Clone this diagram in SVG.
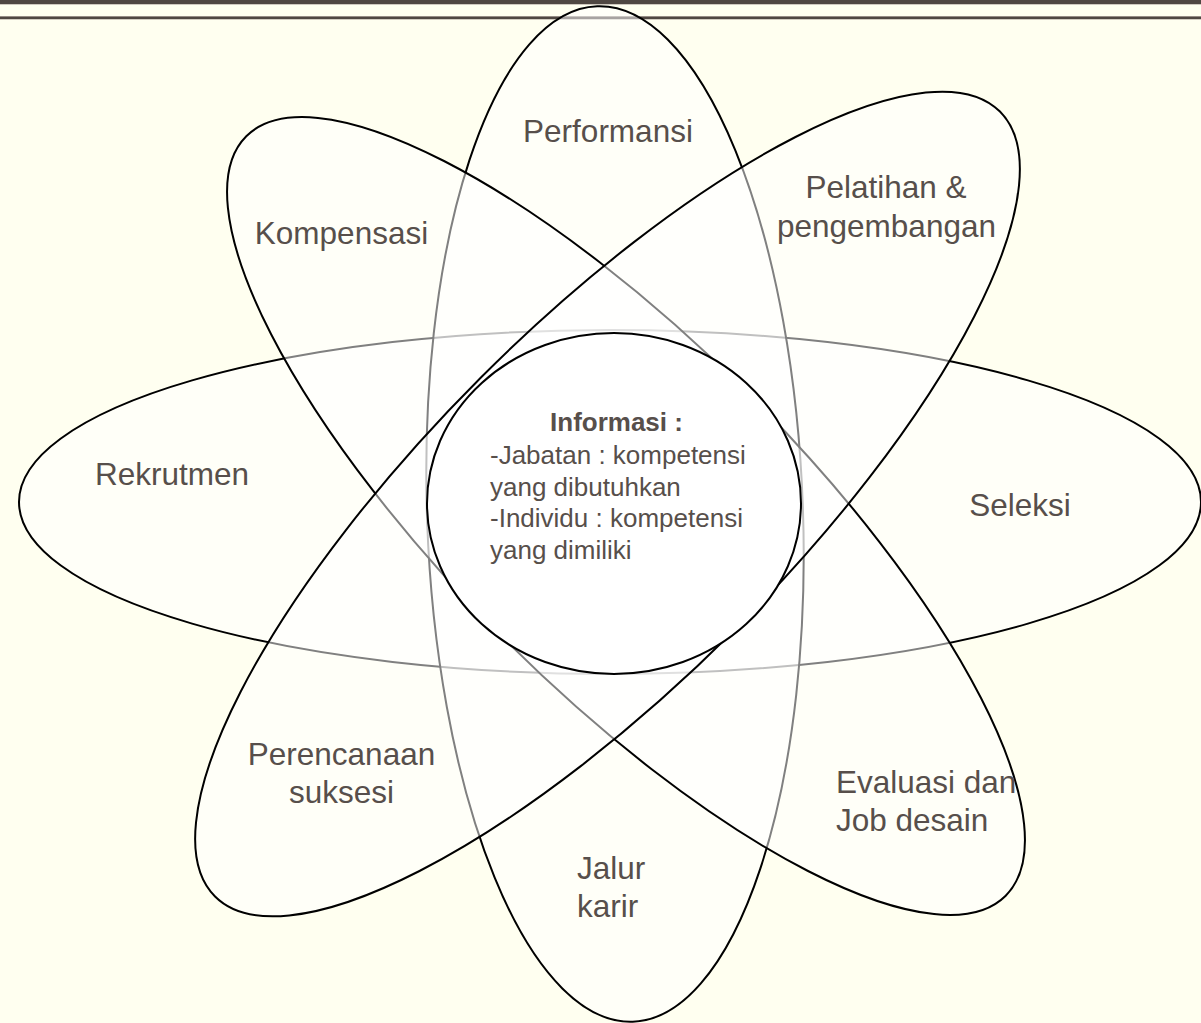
<svg xmlns="http://www.w3.org/2000/svg" width="1201" height="1023" viewBox="0 0 1201 1023">
<style>
.petal{fill:#ffffff;fill-opacity:0.5;stroke:#000000;stroke-width:2}
.core{fill:#ffffff;stroke:#000000;stroke-width:2}
.lbl{font-family:"Liberation Sans",Arial,sans-serif;font-size:31.5px;fill:#574f4b}
.info{font-family:"Liberation Sans",Arial,sans-serif;font-size:26px;fill:#574f4b}
</style>
<rect x="0" y="0" width="1201" height="1023" fill="#fffff0"/>
<g id="header">
<rect x="0" y="0" width="1201" height="4" fill="#4f4742"/>
<rect x="0" y="4" width="1201" height="1" fill="#cfc9bf"/>
<rect x="0" y="16" width="1201" height="1" fill="#958c85"/>
<rect x="0" y="17" width="1201" height="2.2" fill="#4f4742"/>
<rect x="0" y="19.2" width="1201" height="0.8" fill="#cfc9bf"/>
</g>
<g id="connectors"></g>
<g id="node-horizontal">
<ellipse class="petal" cx="610" cy="502" rx="591" ry="172"/>
<text class="lbl" x="172" y="485" text-anchor="middle">Rekrutmen</text>
<text class="lbl" x="1020" y="516" text-anchor="middle">Seleksi</text>
</g>
<g id="node-vertical">
<ellipse class="petal" cx="615" cy="514" rx="188" ry="508" transform="rotate(-2 615 514)"/>
<text class="lbl" x="608" y="142" text-anchor="middle">Performansi</text>
<text class="lbl" x="577" y="879">Jalur</text>
<text class="lbl" x="577" y="917">karir</text>
</g>
<g id="node-diagonal-1">
<ellipse class="petal" cx="626" cy="516" rx="537" ry="173" transform="rotate(45 626 516)"/>
<text class="lbl" x="341.5" y="244" text-anchor="middle">Kompensasi</text>
<text class="lbl" x="836" y="793">Evaluasi dan</text>
<text class="lbl" x="836" y="831">Job desain</text>
</g>
<g id="node-diagonal-2">
<ellipse class="petal" cx="607.5" cy="504" rx="555" ry="179" transform="rotate(-45 607.5 504)"/>
<text class="lbl" x="886" y="198" text-anchor="middle">Pelatihan &amp;</text>
<text class="lbl" x="886.5" y="237" text-anchor="middle">pengembangan</text>
<text class="lbl" x="341.5" y="765" text-anchor="middle">Perencanaan</text>
<text class="lbl" x="341.5" y="803" text-anchor="middle">suksesi</text>
</g>
<g id="node-informasi">
<ellipse class="core" cx="614" cy="503.5" rx="187" ry="170.5"/>
<text class="info" x="616.5" y="431" text-anchor="middle" font-weight="bold">Informasi :</text>
<text class="info" x="490" y="464">-Jabatan : kompetensi</text>
<text class="info" x="490" y="496">yang dibutuhkan</text>
<text class="info" x="490" y="527">-Individu : kompetensi</text>
<text class="info" x="490" y="559">yang dimiliki</text>
</g>
</svg>
